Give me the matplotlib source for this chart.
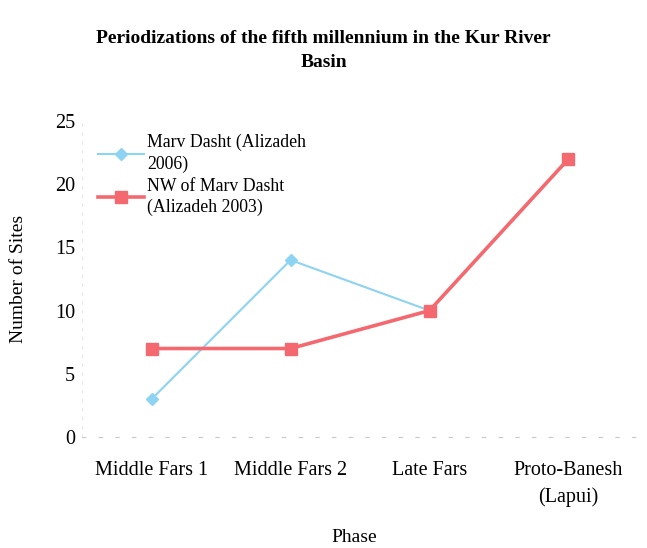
import numpy as np
import matplotlib
matplotlib.use("Agg")
import matplotlib.pyplot as plt

categories = ["Middle Fars 1", "Middle Fars 2", "Late Fars", "Proto-Banesh\n(Lapui)"]
marv_dasht_2006 = [3, 14, 10, np.nan]
nw_marv_dasht_2003 = [7, 7, 10, 22]
yticks = [0, 5, 10, 15, 20, 25]

plt.rcParams['font.family'] = ['Liberation Serif', 'DejaVu Serif']

fig = plt.figure(figsize=(6.47, 5.48), dpi=100)
ax = fig.add_axes([0.127, 0.2026, 0.859, 0.5766])

x = np.arange(len(categories))
ax.plot(x, marv_dasht_2006, color='#8dd3f2', lw=1.5, marker='D', ms=6,
        label='Marv Dasht (Alizadeh\n2006)')
ax.plot(x, nw_marv_dasht_2003, color='#f4696f', lw=2.6, marker='s', ms=9,
        label='NW of Marv Dasht\n(Alizadeh 2003)')

ax.set_xlim(-0.5, len(categories) - 0.5)
ax.set_ylim(0, 25)
ax.set_yticks(yticks)
ax.set_yticklabels([str(v) for v in yticks], fontsize=14.5)
ax.set_xticks(x)
ax.set_xticklabels(categories, fontsize=14.5, va='top', linespacing=1.55)
ax.tick_params(axis='x', length=0, pad=17)
ax.tick_params(axis='y', length=0, pad=5)

for s in ['top', 'right']:
    ax.spines[s].set_visible(False)
ax.spines['left'].set_color('#e8e8e8')
ax.spines['left'].set_linestyle((0, (2, 6)))
ax.spines['bottom'].set_color('#c8c8c8')
ax.spines['bottom'].set_linestyle((0, (3, 12)))

ax.set_ylabel('Number of Sites', fontsize=14, labelpad=20)
fig.text(0.548, 1 - 538 / 548, 'Phase', fontsize=14, ha='center', va='center')

fig.suptitle('Periodizations of the fifth millennium in the Kur River\nBasin',
             fontsize=14, fontweight='bold', y=0.945, linespacing=1.55)

leg = ax.legend(loc='upper left', bbox_to_anchor=(0.0, 1.01), frameon=False,
                fontsize=12.8, handlelength=2.6, handletextpad=0.15,
                labelspacing=0.25)
for t in leg.get_texts():
    t.set_linespacing(1.35)

fig.savefig('out.png', dpi=100)
